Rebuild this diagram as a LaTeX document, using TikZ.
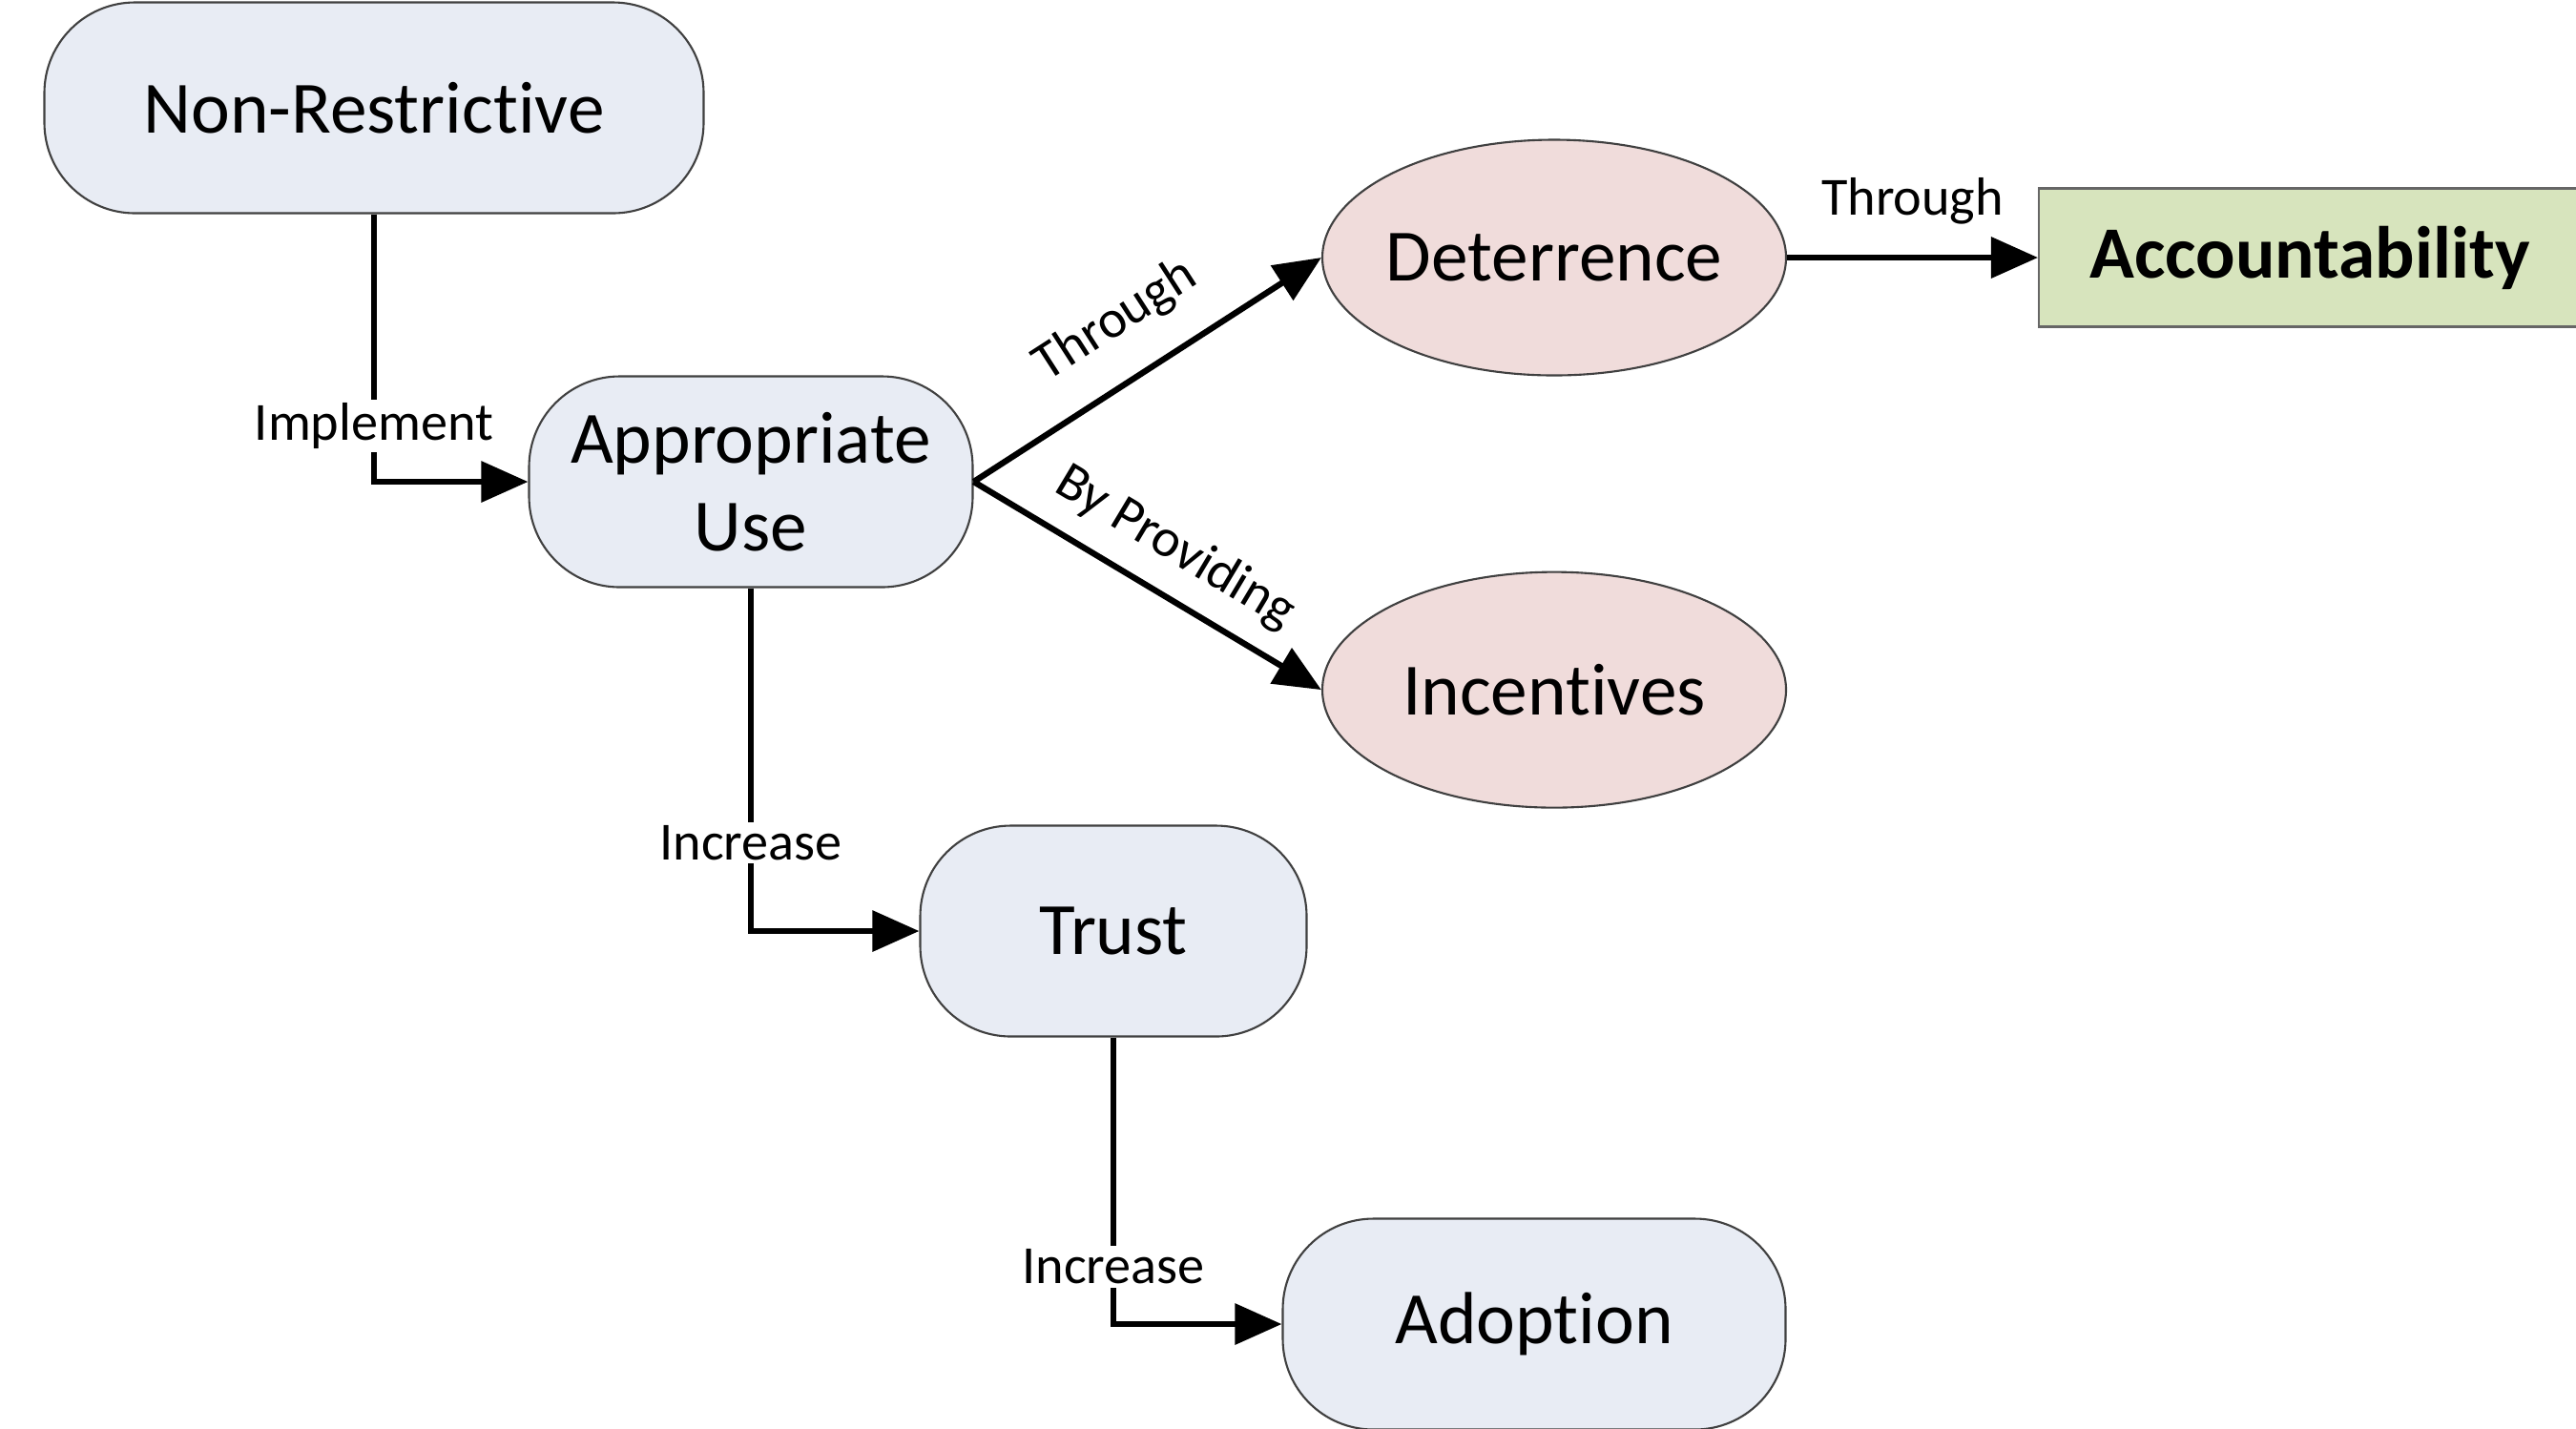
\documentclass[tikz,border=0pt]{standalone}
\usepackage{fontspec}
\setmainfont{Carlito}[Ligatures=NoCommon]
\usetikzlibrary{positioning,arrows.meta,shapes.geometric}
\definecolor{boxblue}{HTML}{E8ECF4}
\definecolor{boxpink}{HTML}{F0DCDB}
\definecolor{boxgreen}{HTML}{D7E4BD}
\tikzset{
    concept/.style = {
        draw = black!75,
        line width = 0.6pt,
        fill = boxblue,
        rounded corners = 0.95cm,
        minimum height = 2.21cm,
        align = center,
        font = \fontsize{22}{26}\selectfont,
        },
    effect/.style = {
        ellipse,
        draw = black!75,
        line width = 0.6pt,
        fill = boxpink,
        inner xsep = -3pt,
        minimum width = 4.86cm,
        minimum height = 2.47cm,
        font = \fontsize{22}{26}\selectfont,
        },
    goal/.style = {
        draw = black!60,
        line width = 0.6pt,
        fill = boxgreen,
        minimum width = 5.68cm,
        minimum height = 1.45cm,
        font = \fontsize{22}{26}\selectfont\bfseries,
        },
    link/.style = {
        line width = 1.8pt,
        -{Triangle[length=14pt, width=12pt]},
        },
    verb/.style = {
        fill = white,
        inner sep = 1pt,
        font = \fontsize{16}{19}\selectfont,
        },
    tag/.style = {
        inner sep = 1pt,
        font = \fontsize{16}{19}\selectfont,
        },
}
\begin{document}
\begin{tikzpicture}
    \useasboundingbox (0,0) rectangle (27,-14.97);

    \node [concept, minimum width=6.91cm] (open) at (3.92,-1.13) {Non-Restrictive};
    \node [concept, minimum width=4.65cm] (use) at (7.87,-5.05) {Appropriate\\Use};
    \node [concept, minimum width=4.05cm] (trust) at (11.67,-9.76) {Trust};
    \node [concept, minimum width=5.27cm] (adopt) at (16.08,-13.88) {Adoption};

    \node [effect] (deter) at (16.29,-2.70) {Deterrence};
    \node [effect, below=2.04cm of deter] (incent) {Incentives};
    \node [goal, right=2.63cm of deter] (account) {Accountability};

    \draw [link] (open.south) |- node [verb, pos=0.395] {Implement} (use.west);
    \draw [link] (use.south) |- node [verb, pos=0.371] {Increase} (trust.west);
    \draw [link] (trust.south) |- node [verb, pos=0.40] {Increase} (adopt.west);

    \draw [link] (use.east) -- node [tag, sloped, above=0.3cm, pos=0.5] {Through} (deter.west);
    \draw [link] (use.east) -- node [tag, sloped, above=0.18cm, pos=0.51] {By Providing} (incent.west);
    \draw [link] (deter.east) -- node [tag, above=0.28cm] {Through} (account.west);
\end{tikzpicture}
\end{document}
